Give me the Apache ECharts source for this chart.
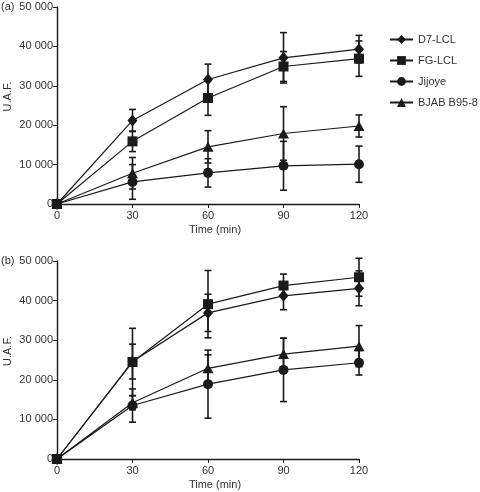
<!DOCTYPE html>
<html><head><meta charset="utf-8">
<script src="https://cdn.jsdelivr.net/npm/echarts@6/dist/echarts.min.js"></script>
<style>html,body{margin:0;padding:0;background:#fff}#c{width:480px;height:492px}</style>
</head><body><div id="c"></div>
<script>
var times = [0, 30, 60, 90, 120];
var seriesNames = ['D7-LCL', 'FG-LCL', 'Jijoye', 'BJAB B95-8'];
var yTicks = [0, 10000, 20000, 30000, 40000, 50000];

// Panel (a)
var a_D7 = [0, 21200, 31600, 37100, 39300];
var a_D7_err = [0, 2800, 3900, 6400, 3500];
var a_FG = [0, 15900, 26900, 34900, 36900];
var a_FG_err = [0, 2600, 4400, 3800, 4500];
var a_Jij = [0, 5600, 7900, 9700, 10100];
var a_Jij_err = [0, 4400, 3600, 6200, 4600];
var a_BJAB = [0, 7800, 14500, 17900, 19800];
var a_BJAB_err = [0, 4000, 4100, 6800, 2800];

// Panel (b)
var b_D7 = [0, 24600, 36900, 41200, 43100];
var b_D7_err = [0, 4400, 4700, 3500, 4400];
var b_FG = [0, 24500, 39100, 43800, 45900];
var b_FG_err = [0, 8500, 8500, 2900, 4800];
var b_Jij = [0, 13500, 18900, 22500, 24300];
var b_Jij_err = [0, 4200, 8600, 8000, 3100];
var b_BJAB = [0, 14200, 22900, 26500, 28500];
var b_BJAB_err = [0, 1800, 3400, 4000, 5200];

var symbols = ['diamond', 'rect', 'circle', 'triangle'];
var symSizes = [[10, 12], 10, 10, [11, 10]];
var ink = '#1a1a1a';
var font = 'Liberation Sans, Arial, sans-serif';

function pts(vals) { return times.map(function (t, i) { return [t, vals[i]]; }); }
function errPts(vals, errs) { return times.map(function (t, i) { return [t, vals[i] - errs[i], vals[i] + errs[i]]; }); }

function renderErr(params, api) {
  var x = api.value(0), lo = api.value(1), hi = api.value(2);
  if (hi - lo <= 0) return;
  var p1 = api.coord([x, hi]), p2 = api.coord([x, lo]);
  var w = 3.5;
  var st = { stroke: ink, lineWidth: 1.6 };
  return { type: 'group', children: [
    { type: 'line', shape: { x1: p1[0], y1: p1[1], x2: p2[0], y2: p2[1] }, style: st },
    { type: 'line', shape: { x1: p1[0] - w, y1: p1[1], x2: p1[0] + w, y2: p1[1] }, style: st },
    { type: 'line', shape: { x1: p2[0] - w, y1: p2[1], x2: p2[0] + w, y2: p2[1] }, style: st }
  ]};
}

var panels = [
  { vals: [a_D7, a_FG, a_Jij, a_BJAB], errs: [a_D7_err, a_FG_err, a_Jij_err, a_BJAB_err] },
  { vals: [b_D7, b_FG, b_Jij, b_BJAB], errs: [b_D7_err, b_FG_err, b_Jij_err, b_BJAB_err] }
];

var series = [];
panels.forEach(function (p, pi) {
  p.vals.forEach(function (v, si) {
    series.push({
      type: 'custom', xAxisIndex: pi, yAxisIndex: pi, renderItem: renderErr,
      data: errPts(v, p.errs[si]), silent: true, z: 1, clip: false
    });
  });
  p.vals.forEach(function (v, si) {
    series.push({
      type: 'line', name: seriesNames[si], xAxisIndex: pi, yAxisIndex: pi,
      data: pts(v), symbol: symbols[si], symbolSize: symSizes[si],
      lineStyle: { color: ink, width: 1.2 }, itemStyle: { color: ink },
      z: 3, animation: false
    });
  });
});

function xAx(idx) {
  return {
    type: 'value', gridIndex: idx, min: 0, max: 120, interval: 30,
    name: 'Time (min)', nameLocation: 'middle', nameGap: 20, nameMoveOverlap: false,
    nameTextStyle: { fontFamily: font, fontSize: 11, color: '#333', padding: [0, 0, 0, 14] },
    axisLine: { lineStyle: { color: ink, width: 1.4 } },
    axisTick: { show: true, length: 4, lineStyle: { color: ink } },
    axisLabel: { fontFamily: font, fontSize: 11, color: '#333', margin: 6 },
    splitLine: { show: false }
  };
}
function yAx(idx) {
  return {
    type: 'value', gridIndex: idx, min: yTicks[0], max: yTicks[yTicks.length - 1], interval: 10000,
    name: 'U.A.F.', nameLocation: 'middle', nameGap: 44, nameMoveOverlap: false,
    nameTextStyle: { fontFamily: font, fontSize: 11, color: '#333', padding: [0, 0, 0, 18] },
    axisLine: { show: true, lineStyle: { color: ink, width: 1.4 } },
    axisTick: { show: true, length: 4, lineStyle: { color: ink } },
    axisLabel: { fontFamily: font, fontSize: 11, color: '#333', margin: 4,
      formatter: function (v) { return String(v).replace(/\B(?=(\d{3})+(?!\d))/g, ' '); } },
    splitLine: { show: false }
  };
}

var chart = echarts.init(document.getElementById('c'), null, { renderer: 'canvas' });
chart.setOption({
  animation: false,
  backgroundColor: '#fff',
  grid: [
    { left: 57, top: 7, width: 302, height: 197, containLabel: false, outerBoundsMode: 'none' },
    { left: 57, top: 261, width: 302, height: 198, containLabel: false, outerBoundsMode: 'none' }
  ],
  xAxis: [xAx(0), xAx(1)],
  yAxis: [yAx(0), yAx(1)],
  legend: {
    data: seriesNames, orient: 'vertical', left: 389, top: 34, padding: 0,
    itemWidth: 23, itemHeight: 11, itemGap: 10,
    textStyle: { fontFamily: font, fontSize: 11, color: '#333' },
    selectedMode: false
  },
  graphic: [
    { type: 'text', left: 1, top: 1, style: { text: '(a)', font: '11px ' + font, fill: '#333' } },
    { type: 'text', left: 1, top: 255, style: { text: '(b)', font: '11px ' + font, fill: '#333' } }
  ],
  series: series
});
</script></body></html>
